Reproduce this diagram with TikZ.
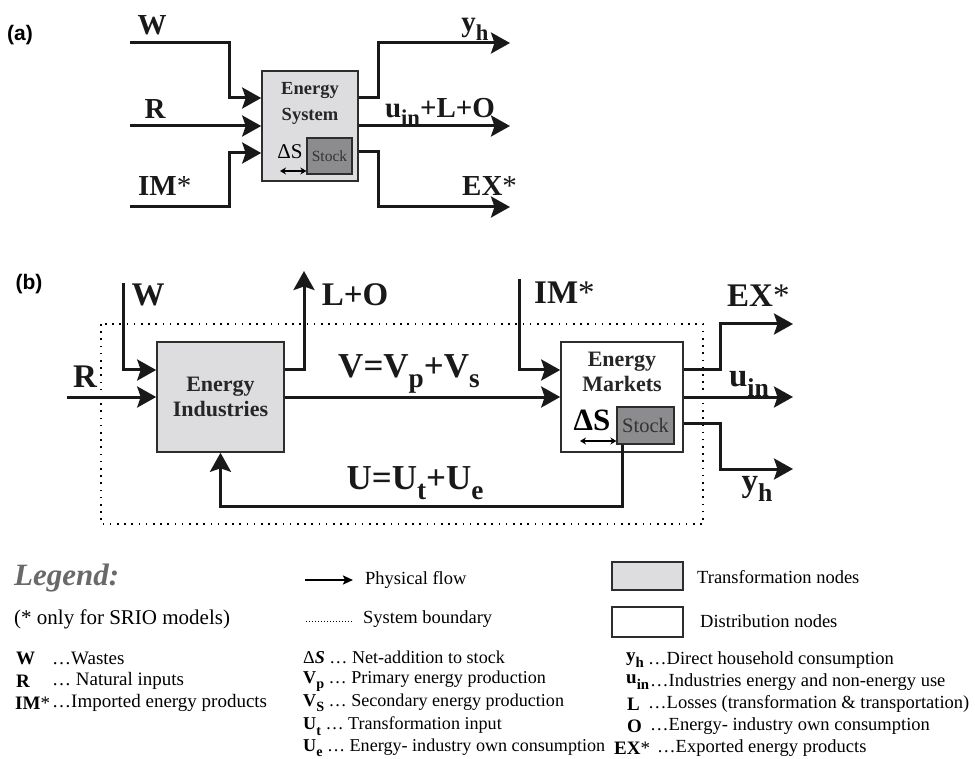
\documentclass[tikz,border=0pt]{standalone}
\usepackage{fontspec}
\setmainfont{Liberation Serif}
\newfontfamily\arialf{Liberation Sans}
\usetikzlibrary{arrows.meta}
\newcommand{\lo}[1]{\raisebox{-0.3em}{\scalebox{0.78}{#1}}}
\newcommand{\fsz}[1]{\fontsize{#1}{#1}\selectfont}
\definecolor{boxgray}{RGB}{221,221,223}
\definecolor{stockgray}{RGB}{140,140,143}
\definecolor{edgec}{RGB}{45,45,45}
\definecolor{leggray}{RGB}{105,105,105}
\tikzset{
 flow/.style={line width=3pt, draw=black!90, -{Stealth[length=19pt,width=21pt,inset=3.5pt]}},
 tbox/.style={draw=edgec, line width=1.6pt, fill=boxgray, inner sep=0},
 dbox/.style={draw=edgec, line width=1.6pt, fill=white, inner sep=0},
 stockbox/.style={draw=edgec, line width=1.3pt, fill=stockgray, inner sep=0, text=black!80},
 biglab/.style={font=\fsz{29}\bfseries, inner sep=0, text=black!90},
 bbiglab/.style={font=\fsz{33}\bfseries, inner sep=0, text=black!90},
 boxtxt/.style={font=\fontsize{18.5}{26}\selectfont\bfseries, align=center, text=black!85, inner sep=0},
 bboxtxt/.style={font=\fontsize{22}{25}\selectfont\bfseries, align=center, text=black!85, inner sep=0},
 dbl/.style={line width=1.2pt, {Stealth[length=6pt,width=7pt]}-{Stealth[length=6pt,width=7pt]}},
 panel/.style={font=\arialf\bfseries\fsz{21}, inner sep=0},
 boundary/.style={line width=1.6pt, dash pattern=on 1.6pt off 5.6pt},
 leg/.style={font=\fsz{18.5}, anchor=west, inner sep=0},
 legsym/.style={font=\fsz{18.5}\bfseries, anchor=west, inner sep=0},
}
\begin{document}
\begin{tikzpicture}[x=1pt,y=-1pt]
\useasboundingbox (0,0) rectangle (975,759);
% ---------------- (a)
\node[panel] (pa) at (20,35) {(a)};
\node[tbox, minimum width=96pt, minimum height=110pt] (ES) at (310,126) {};
\node[boxtxt] (EStxt) at (310,103) {Energy\\System};
\node[stockbox, minimum width=45pt, minimum height=36pt, font=\fsz{15.5}] (ST1) at (329.5,156) {Stock};
\node[font=\fsz{21}, inner sep=0] (dS1) at (290,152) {ΔS};
\coordinate (d1a) at (280,171);
\draw[dbl] (d1a) -- (d1a -| ST1.west);
\coordinate (aW) at (130,43);
\coordinate (aR) at (130,126);
\coordinate (aIM) at (130,207);
\coordinate (ayh) at (510,43);
\coordinate (aun) at (510,126);
\coordinate (aEX) at (510,207);
\draw[flow] (aW) -- (229,43) |- (ES.west |- 0,98);
\draw[flow] (aR) -- (ES.west);
\draw[flow] (aIM) -- (229,207) |- (ES.west |- 0,153);
\draw[flow] (ES.east |- 0,98) -- (378,98) |- (ayh);
\draw[flow] (ES.east) -- (aun);
\draw[flow] (ES.east |- 0,152) -- (378,152) |- (aEX);
\node[biglab] (laW) at (152,25) {W};
\node[biglab] (laR) at (155,109) {R};
\node[biglab, anchor=west] (laIM) at (138,186) {IM\textmd{*}};
\node[biglab] (layh) at (475,29) {y\lo{h}};
\node[biglab] (laun) at (440,112) {u\lo{in}+L+O};
\node[biglab, anchor=west] (laEX) at (462,186) {EX\textmd{*}};
% ---------------- (b)
\node[panel] (pb) at (29,284) {(b)};
\coordinate (bnd1) at (101,324);
\coordinate (bnd2) at (703,524);
\draw[boundary] (bnd1) rectangle (bnd2);
\node[tbox, minimum width=127pt, minimum height=110pt] (EI) at (220.5,397) {};
\node[bboxtxt] (EItxt) at (220.5,397) {Energy\\Industries};
\node[dbox, minimum width=122pt, minimum height=110pt] (EM) at (622,397) {};
\node[bboxtxt] (EMtxt) at (622,372) {Energy\\Markets};
\node[stockbox, minimum width=57pt, minimum height=37pt, font=\fsz{20.5}] (ST2) at (645.5,425.5) {Stock};
\node[font=\fsz{31}\bfseries, inner sep=0] (dS2) at (592,420) {ΔS};
\coordinate (d2a) at (580,441);
\draw[dbl] (d2a) -- (d2a -| ST2.west);
\coordinate (bW) at (123,283);
\coordinate (bR) at (67,397);
\coordinate (bLO) at (304,271);
\coordinate (bIM) at (519,279);
\coordinate (bEX) at (793,324);
\coordinate (bun) at (793,397);
\coordinate (byh) at (793,469);
\draw[flow] (bW) |- (EI.west |- 0,370);
\draw[flow] (bR) -- (EI.west);
\draw[flow] (EI.east |- 0,370) -| (bLO);
\draw[flow] (EI.east) -- (EM.west);
\draw[flow] (bIM) |- (EM.west |- 0,370);
\draw[flow] (EM.east |- 0,370) -- (720,370) |- (bEX);
\draw[flow] (EM.east) -- (bun);
\draw[flow] (EM.east |- 0,423) -- (720,423) |- (byh);
\draw[flow] ([xshift=6pt]ST2.south west) -- ([xshift=6pt]ST2.south west |- 0,506) -| (EI.south);
\node[bbiglab] (lbW) at (148,295) {W};
\node[bbiglab] (lbR) at (85,377) {R};
\node[bbiglab] (lbLO) at (355,295) {L+O};
\node[bbiglab, font=\fsz{35}\bfseries] (lbV) at (409,374) {V=V\lo{p}+V\lo{s}};
\node[bbiglab, font=\fsz{35}\bfseries] (lbU) at (415,483) {U=U\lo{t}+U\lo{e}};
\node[bbiglab, anchor=west] (lbIM) at (534,293) {IM\textmd{*}};
\node[bbiglab, anchor=west] (lbEX) at (727,296) {EX\textmd{*}};
\node[bbiglab] (lbun) at (749,384) {u\lo{in}};
\node[bbiglab] (lbyh) at (757,489) {y\lo{h}};
% ---------------- legend
\node[font=\fsz{31}\bfseries\itshape, text=leggray, anchor=west, inner sep=0] (lg) at (14,578) {Legend:};
\node[font=\fsz{21}, anchor=west, inner sep=0] (srio) at (14,619) {(* only for SRIO models)};
\node[legsym, font=\fsz{19}\bfseries] (sW) at (16,658) {W};
\node[leg, font=\fsz{19}] (tW) at (52,658) {…Wastes};
\node[legsym, font=\fsz{19}\bfseries] (sR) at (16,681) {R};
\node[leg, font=\fsz{19}] (tR) at (52,681) {… Natural inputs};
\node[legsym, font=\fsz{19}\bfseries] (sIM) at (15,703) {IM\textmd{*}};
\node[leg, font=\fsz{19}] (tIM) at (52,703) {…Imported energy products};
% middle column
\coordinate (pf1) at (305,580);
\coordinate (pf2) at (353,580);
\draw[line width=2.6pt, -{Stealth[length=10pt,width=9pt,inset=2pt]}] (pf1) -- (pf2);
\node[leg] (tpf) at (365,580) {Physical flow};
\coordinate (sb1) at (306,621);
\coordinate (sb2) at (353,621);
\draw[line width=1pt, dash pattern=on 1pt off 2pt] (sb1) -- (sb2);
\node[leg] (tsb) at (363,619) {System boundary};
\node[leg, font=\fsz{18.1}] (tdS) at (303,657) {Δ\textbf{\textit{S}} … Net-addition to stock};
\node[leg, font=\fsz{18.1}] (tVp) at (303,681) {\textbf{V\lo{p}} … Primary energy production};
\node[leg, font=\fsz{18.1}] (tVs) at (303,703) {\textbf{V\lo{S}} … Secondary energy production};
\node[leg, font=\fsz{18.1}] (tUt) at (303,726) {\textbf{U\lo{t}} … Transformation input};
\node[leg, font=\fsz{18.1}] (tUe) at (303,748) {\textbf{U\lo{e}} … Energy- industry own consumption};
% right column
\node[tbox, line width=1.5pt, minimum width=71pt, minimum height=28pt] (ltb) at (647.5,576) {};
\node[leg] (ttb) at (697,577) {Transformation nodes};
\node[dbox, line width=1.5pt, minimum width=71pt, minimum height=30pt] (ldb) at (647.5,622) {};
\node[leg] (tdb) at (700,621) {Distribution nodes};
\node[legsym, font=\fsz{19}\bfseries] (syh) at (626,660) {y\lo{h}};
\node[leg] (tyh) at (648,660) {…Direct household consumption};
\node[legsym, font=\fsz{19}\bfseries] (sun) at (626,682) {u\lo{in}};
\node[leg] (tun) at (650,682) {…Industries energy and non-energy use};
\node[legsym, font=\fsz{19}\bfseries] (sL) at (627,704) {L};
\node[leg] (tL) at (648,704) {…Losses (transformation \& transportation)};
\node[legsym, font=\fsz{19}\bfseries] (sO) at (627,726) {O};
\node[leg] (tO) at (650,726) {…Energy- industry own consumption};
\node[legsym, font=\fsz{19}\bfseries] (sEX) at (614,748) {EX\textmd{*}};
\node[leg] (tEX) at (657,748) {…Exported energy products};
\end{tikzpicture}
\end{document}
